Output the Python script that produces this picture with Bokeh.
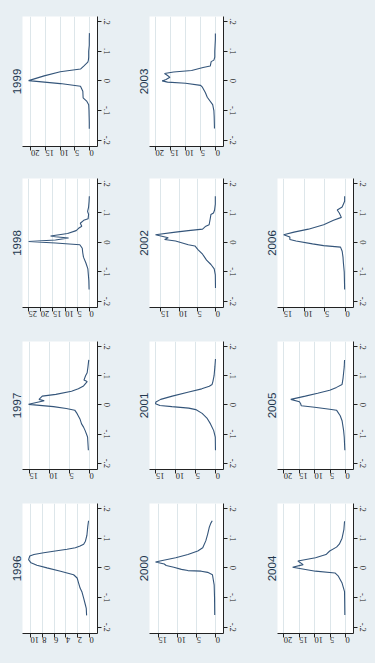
import math
from bokeh.plotting import figure
from bokeh.layouts import gridplot
from bokeh.models import Range1d, FixedTicker, CustomJSTickFormatter, Title
from bokeh.embed import file_html
from bokeh.resources import INLINE

# ---------------- data ----------------
value_ticks = [-0.2, -0.1, 0.0, 0.1, 0.2]

v_1996 = [-0.16, -0.136, -0.125, -0.102, -0.08, -0.068, -0.051, -0.034, -0.023, -0.017, -0.011, 0.0, 0.009,
          0.017, 0.028, 0.040, 0.045, 0.051, 0.057, 0.063, 0.068, 0.074, 0.08, 0.09, 0.11, 0.14, 0.159]
d_1996 = [0.5, 0.56, 0.7, 1.0, 1.3, 1.6, 1.85, 2.1, 2.7, 3.8, 4.9, 7.2, 8.9,
          9.9, 10.3, 10.1, 9.4, 7.75, 5.8, 3.8, 2.4, 1.6, 1.0, 0.7, 0.45, 0.3, 0.17]
ticks_1996 = [0, 2, 4, 6, 8, 10]

v_1997 = [-0.155, -0.11, -0.088, -0.076, -0.065, -0.048, -0.03, -0.018, -0.012, -0.006, 0.002, 0.014,
          0.019, 0.03, 0.036, 0.047, 0.055, 0.065, 0.08, 0.085, 0.10, 0.11, 0.13, 0.154]
d_1997 = [0.3, 0.5, 1.1, 1.5, 2.0, 2.4, 3.1, 3.7, 5.8, 9.0, 15.2, 11.3,
          12.6, 11.8, 8.4, 4.5, 2.8, 1.5, 0.6, 1.4, 1.0, 0.6, 0.4, 0.2]
ticks_1997 = [0, 5, 10, 15]

v_1998 = [-0.16, -0.13, -0.11, -0.09, -0.07, -0.05, -0.035, -0.02, -0.008, -0.002, 0.003, 0.008, 0.015,
          0.019, 0.022, 0.03, 0.04, 0.048, 0.055, 0.065, 0.075, 0.08, 0.095, 0.105, 0.12, 0.14, 0.157]
d_1998 = [0.2, 0.3, 0.5, 0.7, 1.5, 2.5, 2.8, 3.0, 4.0, 14.0, 25.0, 14.0, 8.6,
          14.0, 16.0, 9.0, 5.5, 4.5, 3.2, 3.8, 2.4, 0.6, 0.4, 0.8, 0.4, 0.2, 0.1]
ticks_1998 = [0, 5, 10, 15, 20, 25]

v_1999 = [-0.161, -0.14, -0.12, -0.10, -0.08, -0.068, -0.057, -0.035, -0.018, -0.009, 0.001, 0.017,
          0.031, 0.040, 0.05, 0.063, 0.07, 0.08, 0.10, 0.12, 0.14, 0.161]
d_1999 = [0.1, 0.1, 0.15, 0.2, 0.3, 1.0, 2.2, 2.3, 3.1, 10.0, 20.8, 15.5,
          10.0, 3.1, 2.0, 0.6, 0.4, 0.3, 0.3, 0.1, 0.1, 0.05]
ticks_1999 = [0, 5, 10, 15, 20]

v_2000 = [-0.159, -0.1, -0.057, -0.023, -0.015, -0.011, -0.009, -0.005, 0.002, 0.008, 0.013, 0.020,
          0.025, 0.034, 0.045, 0.057, 0.068, 0.091, 0.114, 0.136, 0.15, 0.159]
d_2000 = [0.25, 0.3, 0.4, 0.85, 2.1, 3.8, 7.3, 9.0, 11.0, 13.0, 13.5, 15.8,
          14.0, 10.5, 7.3, 4.7, 3.4, 2.6, 2.1, 1.7, 1.3, 0.9]
ticks_2000 = [0, 5, 10, 15]

v_2001 = [-0.155, -0.11, -0.088, -0.065, -0.045, -0.029, -0.016, -0.011, -0.006, -0.002, 0.004, 0.01,
          0.019, 0.03, 0.044, 0.055, 0.064, 0.07, 0.08, 0.10, 0.13, 0.157]
d_2001 = [0.05, 0.1, 0.5, 1.3, 2.2, 3.4, 5.0, 6.75, 11.0, 14.0, 15.1, 15.0,
          13.8, 10.9, 6.75, 3.5, 1.6, 0.9, 0.7, 0.4, 0.2, 0.05]
ticks_2001 = [0, 5, 10, 15]

v_2002 = [-0.155, -0.11, -0.09, -0.075, -0.06, -0.04, -0.025, -0.012, -0.008, 0.005, 0.01, 0.016,
          0.026, 0.035, 0.04, 0.045, 0.055, 0.06, 0.08, 0.095, 0.10, 0.11, 0.13, 0.157]
d_2002 = [0.05, 0.1, 0.4, 1.3, 2.5, 3.6, 4.8, 5.7, 7.5, 11.0, 14.0, 13.0,
          16.5, 11.0, 7.5, 3.6, 2.7, 1.8, 1.5, 1.3, 0.6, 0.3, 0.1, 0.1]
ticks_2002 = [0, 5, 10, 15]

v_2003 = [-0.16, -0.12, -0.10, -0.08, -0.055, -0.04, -0.02, -0.015, -0.008, -0.004, 0.0, 0.005, 0.012,
          0.018, 0.025, 0.03, 0.035, 0.045, 0.05, 0.065, 0.07, 0.08, 0.10, 0.12, 0.14, 0.16]
d_2003 = [0.4, 0.5, 0.6, 1.0, 2.8, 3.4, 4.5, 5.0, 10.0, 16.0, 17.8, 16.5, 15.2,
          16.0, 17.0, 14.0, 8.0, 4.2, 1.8, 1.5, 0.6, 0.3, 0.3, 0.2, 0.1, 0.1]
ticks_2003 = [0, 5, 10, 15, 20]

v_2004 = [-0.159, -0.08, -0.051, -0.028, -0.017, -0.011, 0.002, 0.011, 0.023, 0.034, 0.045, 0.057,
          0.07, 0.08, 0.10, 0.13, 0.157]
d_2004 = [0.2, 0.3, 1.1, 2.3, 3.4, 9.7, 17.1, 13.7, 15.4, 9.7, 6.3, 5.1,
          2.9, 2.0, 1.1, 0.5, 0.3]
ticks_2004 = [0, 5, 10, 15, 20]

v_2005 = [-0.155, -0.11, -0.088, -0.054, -0.037, -0.018, -0.015, -0.008, -0.003, 0.004, 0.011, 0.019,
          0.03, 0.04, 0.05, 0.06, 0.07, 0.09, 0.11, 0.13, 0.154]
d_2005 = [0.2, 0.4, 0.6, 1.1, 1.7, 2.9, 5.1, 10.0, 14.3, 14.5, 14.9, 17.7,
          13.0, 9.0, 5.1, 2.9, 1.1, 0.8, 0.6, 0.4, 0.3]
ticks_2005 = [0, 5, 10, 15, 20]

v_2006 = [-0.16, -0.1, -0.07, -0.05, -0.03, -0.016, -0.011, -0.005, 0.005, 0.01, 0.018, 0.026,
          0.035, 0.045, 0.06, 0.075, 0.085, 0.10, 0.11, 0.12, 0.14, 0.157]
d_2006 = [0.2, 0.3, 0.5, 0.6, 0.8, 1.2, 5.3, 8.0, 12.0, 13.5, 13.5, 15.0,
          12.5, 9.0, 5.3, 2.9, 1.0, 1.5, 2.0, 0.8, 0.2, 0.2]
ticks_2006 = [0, 5, 10, 15]

panels = {
    1996: (v_1996, d_1996, ticks_1996), 1997: (v_1997, d_1997, ticks_1997),
    1998: (v_1998, d_1998, ticks_1998), 1999: (v_1999, d_1999, ticks_1999),
    2000: (v_2000, d_2000, ticks_2000), 2001: (v_2001, d_2001, ticks_2001),
    2002: (v_2002, d_2002, ticks_2002), 2003: (v_2003, d_2003, ticks_2003),
    2004: (v_2004, d_2004, ticks_2004), 2005: (v_2005, d_2005, ticks_2005),
    2006: (v_2006, d_2006, ticks_2006),
}

# page arrangement (the chart is shown turned a quarter-turn)
layout_years = [
    [1999, 2003, None],
    [1998, 2002, 2006],
    [1997, 2001, 2005],
    [1996, 2000, 2004],
]

# ---------------- styles ----------------
BG = "#e8eff3"
NAVY = "#34557a"
GRID = "#dde6ea"
AXIS = "#222222"
TITLE_C = "#22364d"

col_w = [125, 126, 124]
col_bl = [22, 24, 26]
col_br = [28, 28, 22]
row_h = [166, 162, 162, 173]
row_bt = [16, 12, 13, 13]
row_bb = [20, 21, 21, 30]

ytick_fmt = CustomJSTickFormatter(code="""
if (Math.abs(tick) < 1e-9) { return '0'; }
var s = tick.toFixed(1);
return s.replace('0.', '.');
""")


def make_panel(year, w, h, bl, br, bt, bb):
    v, d, dticks = panels[year]
    top = max(max(d), dticks[-1])
    p = figure(width=w, height=h, output_backend="svg", toolbar_location=None,
               x_range=Range1d(top * 1.1, -top * 0.13),
               y_range=Range1d(-0.221, 0.217),
               y_axis_location="right",
               min_border_left=bl, min_border_right=br, min_border_top=bt, min_border_bottom=bb,
               background_fill_color="white", border_fill_color=BG,
               outline_line_color=None)
    p.line(d, v, line_color=NAVY, line_width=1.1)

    xa = p.xaxis[0]
    xa.ticker = FixedTicker(ticks=dticks)
    xa.major_label_orientation = math.pi
    ya = p.yaxis[0]
    ya.ticker = FixedTicker(ticks=value_ticks)
    ya.formatter = ytick_fmt
    ya.major_label_orientation = "vertical"
    for ax in (xa, ya):
        ax.axis_line_color = AXIS
        ax.major_tick_line_color = AXIS
        ax.minor_tick_line_color = None
        ax.major_tick_out = 4
        ax.major_tick_in = 0
        ax.major_label_standoff = 2
        ax.major_label_text_font = "Liberation Serif"
        ax.major_label_text_font_size = "8.5px"
        ax.major_label_text_color = "#222222"
    p.xgrid.grid_line_color = GRID
    p.ygrid.visible = False

    t = Title(text=str(year), align="center", text_font_size="11.5px",
              text_font="Liberation Sans", text_font_style="normal",
              text_color=TITLE_C, standoff=3)
    p.add_layout(t, "left")
    return p


rows = []
for r, yrs in enumerate(layout_years):
    row = []
    for c, yr in enumerate(yrs):
        if yr is None:
            row.append(None)
        else:
            row.append(make_panel(yr, col_w[c], row_h[r], col_bl[c], col_br[c], row_bt[r], row_bb[r]))
    rows.append(row)

grid = gridplot(rows, toolbar_location=None)
grid.styles = {"background-color": BG, "gap": "0px"}

open("out.html", "w").write(file_html(grid, INLINE))
